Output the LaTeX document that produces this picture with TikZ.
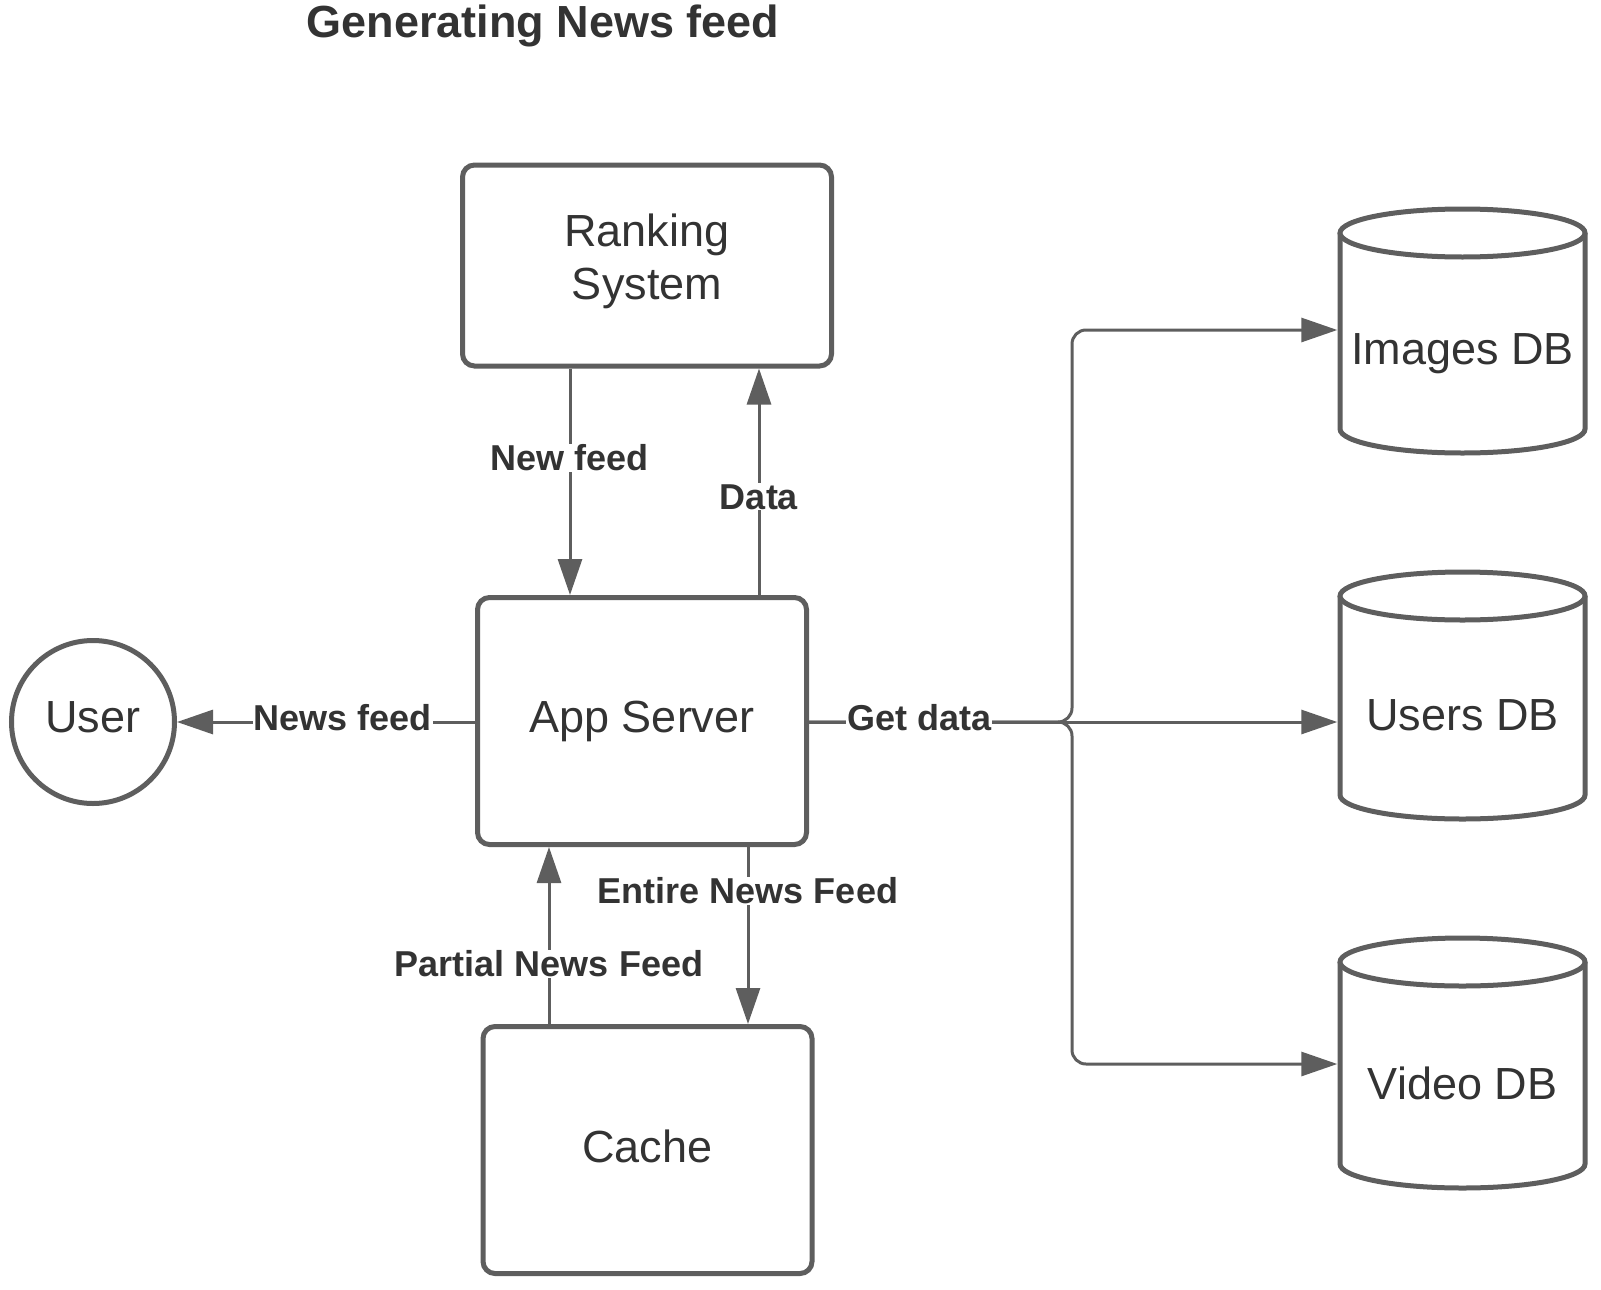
\documentclass[tikz,border=0pt]{standalone}
\usepackage{fontspec}
\setmainfont{Liberation Sans}
\usetikzlibrary{arrows.meta,calc}
\definecolor{lc}{HTML}{5E5E5E}
\definecolor{tc}{HTML}{333333}
\newcommand{\dbcyl}[2]{%
  \draw[dbline] (1340,-#1) -- (1340,-#2) arc[start angle=180,end angle=360,x radius=122.5pt,y radius=24pt] -- (1585,-#1);
  \draw[dbline] (1462.5,-#1) ellipse[x radius=122.5pt, y radius=24pt];}
\tikzset{
  box/.style={draw=lc, line width=5pt, rounded corners=12pt, fill=white, text=tc, align=center, font=\fontsize{45}{55}\selectfont},
  usr/.style={circle, draw=lc, line width=5pt, fill=white, text=tc, minimum size=163pt, inner sep=0pt, font=\fontsize{45}{55}\selectfont},
  dbline/.style={draw=lc, line width=5pt, fill=white},
  dbanchor/.style={inner sep=0pt, minimum width=250pt, minimum height=1pt},
  dbtext/.style={text=tc, font=\fontsize{45}{55}\selectfont},
  conn/.style={draw=lc, line width=3pt},
  arr/.style={conn, -{Triangle[length=36pt,width=24pt]}},
  lbl/.style={fill=white, text=tc, inner sep=1pt, font=\bfseries\fontsize{36}{40}\selectfont},
}
\begin{document}
\begin{tikzpicture}[x=1pt,y=1pt]
\useasboundingbox (0,0) rectangle (1601,-1290);
\node[anchor=base, text=tc, font=\bfseries\fontsize{45}{50}\selectfont] (title) at (543,-38) {Generating News feed};

\node[box, minimum width=369pt, minimum height=201pt, text depth=17.5pt] (rank) at (647,-265.5) {Ranking\\[-2pt]System};
\node[box, minimum width=329pt, minimum height=247pt] (app) at (642,-721) {App Server};
\node[box, minimum width=329pt, minimum height=247pt, text depth=8pt] (cache) at (647.5,-1150) {Cache};
\node[usr, text depth=10pt] (user) at (93,-722) {User};

% databases
\dbcyl{233}{429}
\dbcyl{596}{795}
\dbcyl{962}{1164}
\node[dbanchor] (imgdb) at (1462.5,-330) {};
\node[dbanchor] (usrdb) at (1462.5,-722) {};
\node[dbanchor] (viddb) at (1462.5,-1064) {};
\node[dbtext] (imgt) at (1462.5,-354) {Images DB};
\node[dbtext] (usrt) at (1462.5,-715) {Users DB};
\node[dbtext] (vidt) at (1462.5,-1083) {Video DB};

\coordinate (nfx) at (570,0);
\coordinate (dx) at (759,0);
\coordinate (pfx) at (549,0);
\coordinate (efx) at (748,0);
\coordinate (jx) at (1072,-722);

\draw[arr] (rank.south -| nfx) -- node[lbl, pos=0.394] {New feed} (app.north -| nfx);
\draw[arr] (app.north -| dx) -- node[lbl, pos=0.433] {Data} (rank.south -| dx);
\draw[arr] (cache.north -| pfx) -- node[lbl, pos=0.34] {Partial News Feed} (app.south -| pfx);
\draw[arr] (app.south -| efx) -- node[lbl, pos=0.247] {Entire News Feed} (cache.north -| efx);
\draw[arr] (app.west |- user) -- node[lbl, pos=0.444, yshift=4pt] {News feed} (user.east);

\draw[arr, rounded corners=14pt] (app.east |- jx) -- (jx) |- (imgdb.west);
\draw[arr, rounded corners=14pt] (app.east |- jx) -- (jx) |- (viddb.west);
\draw[arr] (app.east |- jx) -- node[lbl, pos=0.209, yshift=4pt] {Get data} (usrdb.west);
\end{tikzpicture}
\end{document}
